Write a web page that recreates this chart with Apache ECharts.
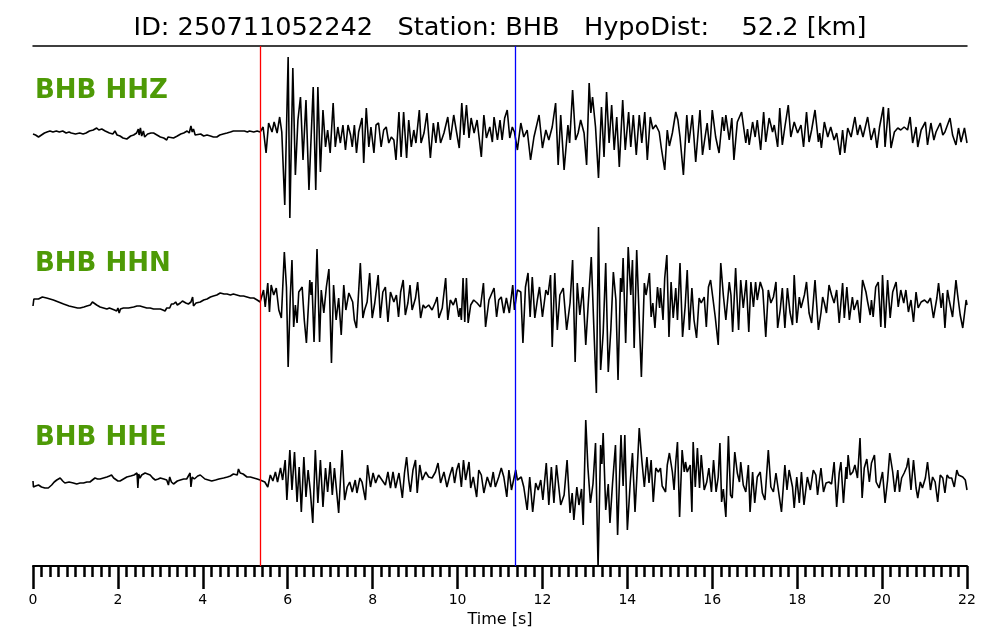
<!DOCTYPE html>
<html>
<head>
<meta charset="utf-8">
<script src="https://cdn.jsdelivr.net/npm/echarts@6/dist/echarts.min.js"></script>
<style>html,body{margin:0;padding:0;background:#fff}#chart{width:1000px;height:640px}</style>
</head>
<body>
<div id="chart"></div>
<script>
// ---- data (time [s], amplitude) ----
const eventId = '250711052242';
const station = 'BHB';
const hypoDistKm = 52.2;
const channels = ['BHB HHZ', 'BHB HHN', 'BHB HHE'];
const pickTimes = [5.36, 11.35];   // P (red), S (blue)
const xTicks = [0, 2, 4, 6, 8, 10, 12, 14, 16, 18, 20, 22];

const traceHHZ = [
[0.00,-1],[0.06,-2],[0.13,-4],[0.20,-2],[0.27,0],[0.33,1],[0.40,2],[0.47,1],[0.55,2],[0.62,1],[0.70,2],[0.78,0],[0.85,1],[0.90,0],[1.00,-1],[1.10,0],[1.18,-1],[1.25,0],[1.33,2],[1.42,3],[1.50,5],[1.55,3],[1.62,4],[1.70,2],[1.74,1],[1.80,0],[1.88,-1],[1.93,2],[1.98,-2],[2.05,-3],[2.12,-5],[2.21,-6],[2.30,-3],[2.37,-2],[2.44,0],[2.48,4],[2.50,-2],[2.53,5],[2.56,-3],[2.60,2],[2.63,-4],[2.70,-1],[2.78,0],[2.84,0],[2.92,-2],[3.00,-4],[3.08,-5],[3.12,-3],[3.15,-7],[3.18,-4],[3.22,-6],[3.31,-5],[3.40,-3],[3.48,-1],[3.55,0],[3.63,2],[3.68,0],[3.72,7],[3.75,1],[3.78,4],[3.82,-2],[3.86,-3],[3.95,-1],[4.02,-3],[4.10,-2],[4.18,-3],[4.25,-4],[4.33,-4],[4.40,-2],[4.48,-1],[4.57,0],[4.65,1],[4.72,2],[4.80,2],[4.84,4],[4.90,2],[4.98,2],[5.05,1],[5.10,2],[5.20,1],[5.28,2],[5.35,1],
[5.42,6],[5.49,-20],[5.55,10],[5.63,1],[5.68,11],[5.75,0],[5.81,16],[5.86,1],[5.93,-72],[6.01,76],[6.05,-85],[6.12,65],[6.18,-42],[6.24,13],[6.30,36],[6.36,-27],[6.43,33],[6.50,-57],[6.60,46],[6.66,-57],[6.71,46],[6.77,-39],[6.83,23],[6.89,-14],[6.94,3],[7.00,-20],[7.07,30],[7.12,-14],[7.18,6],[7.24,-10],[7.30,8],[7.36,-17],[7.42,8],
[7.48,-2],[7.52,-14],[7.57,8],[7.62,-20],[7.67,1],[7.75,15],[7.79,-30],[7.85,25],[7.91,-14],[7.96,6],[8.03,-20],[8.08,8],[8.14,10],[8.20,-14],[8.26,3],[8.32,6],[8.38,-10],[8.44,-4],[8.50,-7],[8.55,-27],[8.62,21],[8.67,-24],[8.73,21],[8.80,-25],[8.85,13],[8.91,-14],[8.97,3],[9.02,-10],[9.10,23],[9.14,-10],[9.21,0],[9.28,20],[9.36,-25],[9.43,10],[9.49,-10],[9.54,11],[9.60,-10],[9.68,0],[9.77,16],[9.83,-7],[9.91,18],[9.98,0],[10.04,-15],[10.10,30],[10.15,-2],[10.21,28],[10.27,-5],[10.32,15],[10.39,0],[10.46,13],[10.56,-24],[10.62,18],[10.68,-5],[10.76,6],[10.82,-9],[10.86,16],[10.94,-7],[11.00,13],[11.05,-7],[11.11,15],[11.17,23],[11.23,-5],[11.29,6],[11.34,1],[11.41,-17],[11.49,10],[11.56,-4],[11.64,3],[11.72,-27],[11.80,-4],[11.92,18],[12.00,-15],[12.08,3],[12.15,-7],[12.23,6],[12.31,30],[12.37,-32],[12.43,18],[12.51,-37],[12.60,8],[12.64,-10],[12.71,43],[12.78,-7],[12.84,0],[12.90,13],[12.98,0],[13.04,-32],[13.10,50],[13.14,20],[13.18,36],[13.25,6],[13.32,-45],[13.39,26],[13.45,-24],[13.51,41],[13.57,-10],[13.63,28],[13.69,-17],[13.75,16],[13.81,-34],[13.89,33],[13.95,-17],[14.03,21],[14.08,-14],[14.14,18],[14.21,-22],[14.28,18],[14.34,-10],[14.41,21],[14.47,-27],[14.54,16],[14.60,4],[14.67,8],[14.75,1],
[14.80,-15],[14.88,-37],[14.94,3],[14.99,-13],[15.06,0],[15.14,21],[15.19,13],[15.24,-4],[15.32,-42],[15.40,18],[15.45,-10],[15.53,18],[15.61,-29],[15.71,23],[15.77,-22],[15.82,-7],[15.88,10],[15.94,-17],[16.00,23],[16.08,-4],[16.16,-20],[16.24,16],[16.28,2],[16.32,18],[16.40,-7],[16.46,15],[16.51,-27],[16.59,11],[16.69,21],[16.79,-10],[16.83,4],[16.87,-12],[16.95,11],[17.01,-4],[17.06,13],[17.14,-17],[17.21,21],[17.26,-9],[17.34,15],[17.42,1],[17.46,8],[17.54,-14],[17.59,25],[17.65,-12],[17.71,6],[17.79,28],[17.85,-4],[17.93,11],[18.01,0],[18.09,8],[18.15,-14],[18.22,21],[18.28,-9],[18.34,3],[18.42,23],[18.50,-9],[18.53,0],[18.57,-15],[18.64,11],[18.72,-4],[18.79,6],[18.87,-7],[18.93,0],[19.01,-22],[19.07,3],[19.12,-20],[19.19,5],[19.27,-4],[19.36,16],[19.42,-2],[19.48,8],[19.55,-4],[19.66,16],[19.74,-7],[19.82,5],[19.88,-15],[19.94,6],[20.03,26],[20.07,-14],[20.15,25],[20.21,-15],[20.29,1],[20.37,5],[20.44,3],[20.52,6],[20.60,3],[20.66,16],[20.72,-10],[20.80,6],[20.84,-14],[20.92,3],[21.02,11],[21.07,-12],[21.15,10],[21.22,-7],[21.27,1],[21.37,10],[21.43,-2],[21.48,1],[21.60,15],[21.66,-2],[21.74,-12],[21.80,5],[21.86,-9],[21.94,5],[22.00,-10]
];

const traceHHN = [
[0.00,-6],[0.02,1],[0.13,1],[0.22,3],[0.32,2],[0.40,1],[0.48,0],[0.60,-2],[0.72,-4],[0.85,-6],[0.95,-7],[1.05,-8],[1.11,-8],[1.20,-7],[1.27,-6],[1.35,-5],[1.40,-2],[1.42,-4],[1.50,-5],[1.58,-7],[1.66,-8],[1.74,-9],[1.80,-8],[1.86,-9],[1.92,-10],[1.97,-11],[2.00,-8],[2.03,-13],[2.06,-9],[2.13,-8],[2.25,-8],[2.37,-7],[2.45,-6],[2.52,-6],[2.55,-4],[2.60,-7],[2.68,-8],[2.76,-8],[2.84,-9],[2.92,-9],[3.00,-9],[3.06,-10],[3.11,-11],[3.15,-8],[3.19,-6],[3.22,-8],[3.26,-4],[3.31,-4],[3.36,-2],[3.40,-5],[3.47,-3],[3.52,-1],[3.55,0],[3.60,-3],[3.66,-4],[3.72,-2],[3.76,3],[3.78,-6],[3.84,-3],[3.94,-2],[4.02,0],[4.10,1],[4.18,3],[4.25,4],[4.33,5],[4.41,7],[4.45,8],[4.50,6],[4.57,6],[4.65,5],[4.72,6],[4.80,5],[4.88,4],[4.96,4],[5.04,3],[5.12,2],[5.20,2],[5.28,0],[5.35,-2],
[5.37,-2],[5.43,10],[5.47,-7],[5.53,17],[5.57,-12],[5.61,15],[5.67,5],[5.73,12],[5.79,-10],[5.85,-18],[5.92,48],[5.97,13],[6.01,-67],[6.06,3],[6.10,40],[6.14,-27],[6.18,-5],[6.22,-23],[6.26,8],[6.34,13],[6.39,-20],[6.44,-43],[6.52,20],[6.55,5],[6.57,18],[6.62,-42],[6.69,51],[6.75,-42],[6.79,10],[6.85,-13],[6.91,13],[6.97,31],[7.03,-63],[7.08,15],[7.14,-20],[7.20,2],[7.26,-35],[7.32,15],[7.37,-10],[7.44,7],
[7.48,8],[7.53,-2],[7.57,-20],[7.62,-28],[7.71,37],[7.77,-18],[7.81,-10],[7.87,-2],[7.93,27],[7.99,-18],[8.05,-3],[8.13,25],[8.18,-18],[8.24,8],[8.30,13],[8.36,-22],[8.42,8],[8.50,-2],[8.56,5],[8.61,-17],[8.66,8],[8.72,20],[8.77,-15],[8.83,-3],[8.88,15],[8.93,-10],[9.01,2],[9.06,18],[9.13,-18],[9.19,-5],[9.24,-8],[9.32,-5],[9.40,-10],[9.48,-2],[9.52,3],[9.56,-18],[9.64,-8],[9.72,22],[9.77,-20],[9.83,0],[9.90,-5],[9.96,2],[10.03,-17],[10.06,-8],[10.09,-20],[10.13,22],[10.17,-22],[10.21,22],[10.25,-23],[10.31,-5],[10.38,0],[10.46,-3],[10.54,-7],[10.61,17],[10.66,-27],[10.74,0],[10.86,12],[10.92,-17],[10.97,0],[11.03,3],[11.09,-13],[11.15,2],[11.22,-13],[11.30,15],[11.34,-10],[11.41,10],[11.49,8],[11.54,-43],[11.60,13],[11.66,27],[11.71,-17],[11.76,23],[11.82,-18],[11.88,0],[11.93,13],[12.00,-17],[12.08,10],[12.13,5],[12.19,25],[12.23,-47],[12.29,27],[12.35,-30],[12.41,5],[12.49,12],[12.57,-30],[12.65,-3],[12.71,40],[12.77,-62],[12.82,17],[12.88,-15],[12.95,13],[13.02,-45],[13.08,-3],[13.15,43],[13.21,-27],[13.27,-93],[13.32,73],[13.37,-70],[13.43,-33],[13.49,37],[13.55,-72],[13.61,-30],[13.67,28],[13.73,0],[13.78,-80],[13.84,22],[13.87,8],[13.90,42],[13.96,-43],[14.02,53],[14.08,5],[14.12,40],[14.16,-48],[14.22,50],[14.28,-20],[14.33,-77],[14.40,17],[14.44,5],[14.48,15],[14.52,27],[14.56,-17],[14.60,-3],[14.65,-28],[14.71,13],[14.76,-8],
[14.78,12],[14.84,-20],[14.88,22],[14.93,45],[14.98,-37],[15.03,18],[15.08,-18],[15.14,12],[15.18,-20],[15.24,37],[15.30,-37],[15.36,-7],[15.41,30],[15.46,-30],[15.52,12],[15.57,-20],[15.63,-38],[15.69,2],[15.74,-3],[15.81,3],[15.86,-27],[15.91,13],[15.96,20],[16.02,0],[16.07,-17],[16.14,-45],[16.20,37],[16.26,5],[16.32,-20],[16.40,18],[16.44,5],[16.48,-32],[16.55,32],[16.62,-30],[16.67,20],[16.73,-8],[16.80,20],[16.86,-32],[16.91,18],[16.97,-7],[17.02,18],[17.06,0],[17.13,18],[17.19,10],[17.26,-37],[17.32,10],[17.38,-3],[17.44,3],[17.50,18],[17.54,-28],[17.60,-10],[17.65,12],[17.71,-28],[17.77,12],[17.83,-12],[17.89,-25],[17.93,25],[17.99,-23],[18.05,3],[18.09,-8],[18.17,5],[18.22,18],[18.28,-13],[18.34,-23],[18.42,20],[18.50,-30],[18.56,-13],[18.60,3],[18.64,-3],[18.69,-13],[18.75,15],[18.81,5],[18.87,-3],[18.93,10],[18.99,-23],[19.07,17],[19.11,-18],[19.17,13],[19.23,-20],[19.30,3],[19.34,-10],[19.42,0],[19.48,-23],[19.54,20],[19.62,8],[19.66,-2],[19.72,-15],[19.75,0],[19.79,-17],[19.85,13],[19.91,18],[19.97,-27],[20.01,25],[20.07,-28],[20.13,20],[20.19,-18],[20.25,8],[20.33,18],[20.38,-7],[20.44,10],[20.51,-3],[20.56,10],[20.62,-12],[20.68,0],[20.74,-22],[20.80,8],[20.85,-8],[20.92,-2],[21.00,0],[21.07,-3],[21.14,2],[21.21,-18],[21.29,2],[21.33,17],[21.39,-8],[21.43,7],[21.48,-28],[21.54,10],[21.58,0],[21.66,-17],[21.74,20],[21.78,5],[21.84,-15],[21.90,-28],[21.98,0],[22.00,-5]
];

const traceHHE = [
[0.00,3],[0.01,-3],[0.06,-2],[0.13,-1],[0.20,-3],[0.28,-4],[0.36,-4],[0.44,-1],[0.50,2],[0.56,4],[0.64,6],[0.70,3],[0.75,1],[0.85,2],[0.95,1],[1.03,0],[1.11,1],[1.19,1],[1.27,2],[1.34,2],[1.40,4],[1.46,6],[1.52,5],[1.58,5],[1.66,6],[1.74,7],[1.80,8],[1.85,9],[1.90,6],[1.93,4],[2.00,3],[2.05,3],[2.13,5],[2.21,7],[2.30,8],[2.38,9],[2.45,11],[2.47,-4],[2.49,10],[2.52,6],[2.56,9],[2.64,11],[2.70,10],[2.76,9],[2.82,6],[2.88,4],[2.95,5],[3.00,6],[3.08,5],[3.15,4],[3.19,-1],[3.22,7],[3.26,2],[3.31,0],[3.40,3],[3.47,4],[3.55,5],[3.62,5],[3.70,11],[3.72,-3],[3.75,7],[3.80,5],[3.88,8],[3.94,9],[4.05,5],[4.13,4],[4.21,3],[4.30,4],[4.38,5],[4.49,6],[4.58,7],[4.65,8],[4.72,10],[4.76,11],[4.81,9],[4.84,15],[4.88,11],[4.95,10],[5.04,7],[5.12,7],[5.20,6],[5.28,5],[5.35,4],
[5.39,6],[5.46,2],[5.53,-3],[5.59,9],[5.65,3],[5.71,12],[5.76,2],[5.83,16],[5.88,4],[5.94,24],[5.98,-16],[6.05,34],[6.10,-6],[6.16,32],[6.22,-18],[6.27,17],[6.32,-28],[6.38,27],[6.43,-13],[6.48,14],[6.53,-6],[6.59,-39],[6.65,34],[6.71,-19],[6.77,24],[6.83,-23],[6.89,16],[6.94,-8],[7.00,22],[7.05,-11],[7.10,16],[7.20,-29],[7.28,34],[7.34,-16],[7.40,-3],[7.46,2],[7.52,-8],[7.59,4],[7.63,-9],[7.70,6],[7.75,2],[7.83,-16],[7.88,19],[7.95,-3],[8.01,11],[8.07,1],[8.14,9],[8.22,4],[8.30,-1],[8.36,12],[8.42,-4],[8.48,12],[8.54,-4],[8.62,11],[8.70,-14],[8.75,11],[8.80,27],[8.85,4],[8.89,-8],[8.95,14],[9.01,24],[9.05,-9],[9.11,19],[9.17,4],[9.25,12],[9.32,7],[9.40,6],[9.48,12],[9.54,21],[9.60,1],[9.68,12],[9.75,-3],[9.82,9],[9.88,17],[9.93,1],[9.98,14],[10.03,21],[10.09,-3],[10.14,24],[10.19,4],[10.27,22],[10.31,-4],[10.37,7],[10.45,-13],[10.50,14],[10.56,9],[10.62,-9],[10.70,7],[10.78,-3],[10.84,12],[10.89,-3],[10.97,7],[11.03,16],[11.09,7],[11.16,-13],[11.21,14],[11.27,-6],[11.33,6],[11.37,14],[11.41,4],[11.50,7],[11.56,-3],[11.64,-26],[11.70,7],[11.77,-28],[11.84,1],[11.90,-6],[11.96,4],[12.01,-16],[12.09,21],[12.15,-21],[12.21,17],[12.27,-19],[12.33,19],[12.43,-21],[12.51,-11],[12.58,24],[12.65,-29],[12.70,-9],[12.74,-36],[12.81,-3],[12.86,-21],[12.92,-5],[12.96,-41],[13.02,64],[13.07,17],[13.13,-19],[13.19,0],[13.25,41],[13.31,-83],[13.37,39],[13.40,20],[13.43,51],[13.49,-26],[13.55,0],[13.59,-39],[13.65,0],[13.72,39],[13.77,-51],[13.85,49],[13.90,-2],[13.94,49],[14.00,-46],[14.07,3],[14.12,31],[14.18,-28],[14.22,4],[14.28,56],[14.34,24],[14.40,-3],[14.46,27],[14.51,1],[14.56,24],[14.61,-18],[14.67,16],[14.73,12],[14.78,16],
[14.82,-2],[14.90,-8],[14.94,19],[14.99,31],[15.06,12],[15.10,-6],[15.14,22],[15.18,42],[15.23,-33],[15.29,34],[15.34,12],[15.37,22],[15.41,12],[15.48,19],[15.52,-28],[15.55,42],[15.60,-3],[15.65,36],[15.70,-4],[15.74,29],[15.81,-6],[15.87,2],[15.92,16],[15.98,-8],[16.03,24],[16.09,-8],[16.14,7],[16.18,41],[16.22,-18],[16.26,-5],[16.32,-33],[16.38,48],[16.43,-11],[16.47,-14],[16.53,32],[16.59,11],[16.64,2],[16.67,22],[16.73,-1],[16.79,-8],[16.85,19],[16.89,-28],[16.95,12],[17.00,-19],[17.06,7],[17.13,12],[17.18,-9],[17.24,-16],[17.32,34],[17.38,-3],[17.44,-8],[17.50,11],[17.55,-4],[17.63,-28],[17.71,19],[17.76,-6],[17.81,14],[17.89,-3],[17.93,-24],[17.99,7],[18.05,-19],[18.10,12],[18.16,-21],[18.24,7],[18.31,-6],[18.38,14],[18.44,9],[18.48,-11],[18.56,16],[18.62,-8],[18.68,1],[18.75,2],[18.81,0],[18.87,22],[18.93,-23],[18.99,11],[19.03,22],[19.09,-19],[19.15,17],[19.17,5],[19.20,29],[19.25,9],[19.31,12],[19.36,19],[19.42,6],[19.48,46],[19.53,-14],[19.58,16],[19.64,25],[19.70,2],[19.75,21],[19.82,29],[19.86,2],[19.93,-4],[20.01,12],[20.07,-19],[20.13,4],[20.18,31],[20.25,12],[20.30,-8],[20.37,14],[20.41,-8],[20.46,6],[20.52,11],[20.58,17],[20.62,26],[20.68,-6],[20.74,24],[20.80,-4],[20.84,-14],[20.90,2],[20.95,-4],[21.02,6],[21.07,22],[21.14,-6],[21.19,7],[21.25,2],[21.31,-18],[21.37,9],[21.43,6],[21.48,-9],[21.53,9],[21.58,6],[21.64,6],[21.70,-3],[21.76,14],[21.80,9],[21.84,9],[21.90,7],[21.96,4],[22.00,-6]
];

// ---- chart ----
const traces = [traceHHZ, traceHHN, traceHHE];
const FONT = "'DejaVu Sans', 'Liberation Sans', sans-serif";
const traceGrids = [
  {left: 33, right: 33, top: 33, height: 200},
  {left: 33, right: 33, top: 200, height: 200},
  {left: 33, right: 33, top: 384, height: 200}
];
const labelTops = [78, 251, 425];

const chart = echarts.init(document.getElementById('chart'), null, {renderer: 'canvas'});

const grids = traceGrids.concat([{left: 33, right: 33, top: 46, height: 520}]);
const xAxes = [];
const yAxes = [];
for (let i = 0; i < 3; i++) {
  xAxes.push({type: 'value', gridIndex: i, min: 0, max: 22, show: false});
  yAxes.push({type: 'value', gridIndex: i, min: -100, max: 100, show: false});
}
xAxes.push({
  type: 'value', gridIndex: 3, min: xTicks[0], max: xTicks[xTicks.length - 1], interval: 2,
  position: 'bottom',
  name: 'Time [s]', nameLocation: 'middle', nameGap: 41,
  nameTextStyle: {fontFamily: FONT, fontSize: 16, color: '#000'},
  axisLine: {show: true, onZero: false, lineStyle: {color: '#000', width: 2}},
  axisTick: {show: true, length: 23, lineStyle: {color: '#000', width: 2.5}},
  minorTick: {show: true, splitNumber: 10, length: 11, lineStyle: {color: '#000', width: 2.5}},
  axisLabel: {fontFamily: FONT, fontSize: 14, color: '#000', margin: 27},
  splitLine: {show: false}, minorSplitLine: {show: false}
});
xAxes.push({
  type: 'value', gridIndex: 3, min: 0, max: 22, position: 'top',
  axisLine: {show: true, onZero: false, lineStyle: {color: '#000', width: 1.5}},
  axisTick: {show: false}, axisLabel: {show: false}, splitLine: {show: false}
});
yAxes.push({type: 'value', gridIndex: 3, min: 0, max: 1, show: false});

const series = traces.map((tr, i) => ({
  type: 'line', xAxisIndex: i, yAxisIndex: i, data: tr,
  showSymbol: false, symbol: 'none', clip: false, silent: true,
  lineStyle: {color: '#000', width: 1.6}
}));
const pickColors = ['#ff0000', '#0000ff'];
series.push({
  type: 'line', xAxisIndex: 3, yAxisIndex: 3,
  data: pickTimes.map(t => [t, 0.5]), symbol: 'none', showSymbol: false,
  lineStyle: {width: 0, opacity: 0}, silent: true,
  markLine: {
    symbol: 'none', silent: true, animation: false,
    label: {show: false},
    data: pickTimes.map((t, i) => ({xAxis: t, lineStyle: {color: pickColors[i], width: 1.3, type: 'solid'}}))
  }
});

const titles = [{
  text: 'ID: ' + eventId + '   Station: ' + station + '   HypoDist:    ' + hypoDistKm.toFixed(1) + ' [km]',
  left: 'center', top: 15, padding: 0,
  textStyle: {fontFamily: FONT, fontSize: 25.6, fontWeight: 'normal', color: '#000'}
}].concat(channels.map((c, i) => ({
  text: c, left: 35, top: labelTops[i], padding: 0,
  textStyle: {fontFamily: FONT, fontSize: 26, fontWeight: 'bold', color: '#4e9a06'}
})));

chart.setOption({
  animation: false,
  backgroundColor: '#fff',
  title: titles,
  grid: grids,
  xAxis: xAxes,
  yAxis: yAxes,
  series: series
});
</script>
</body>
</html>
